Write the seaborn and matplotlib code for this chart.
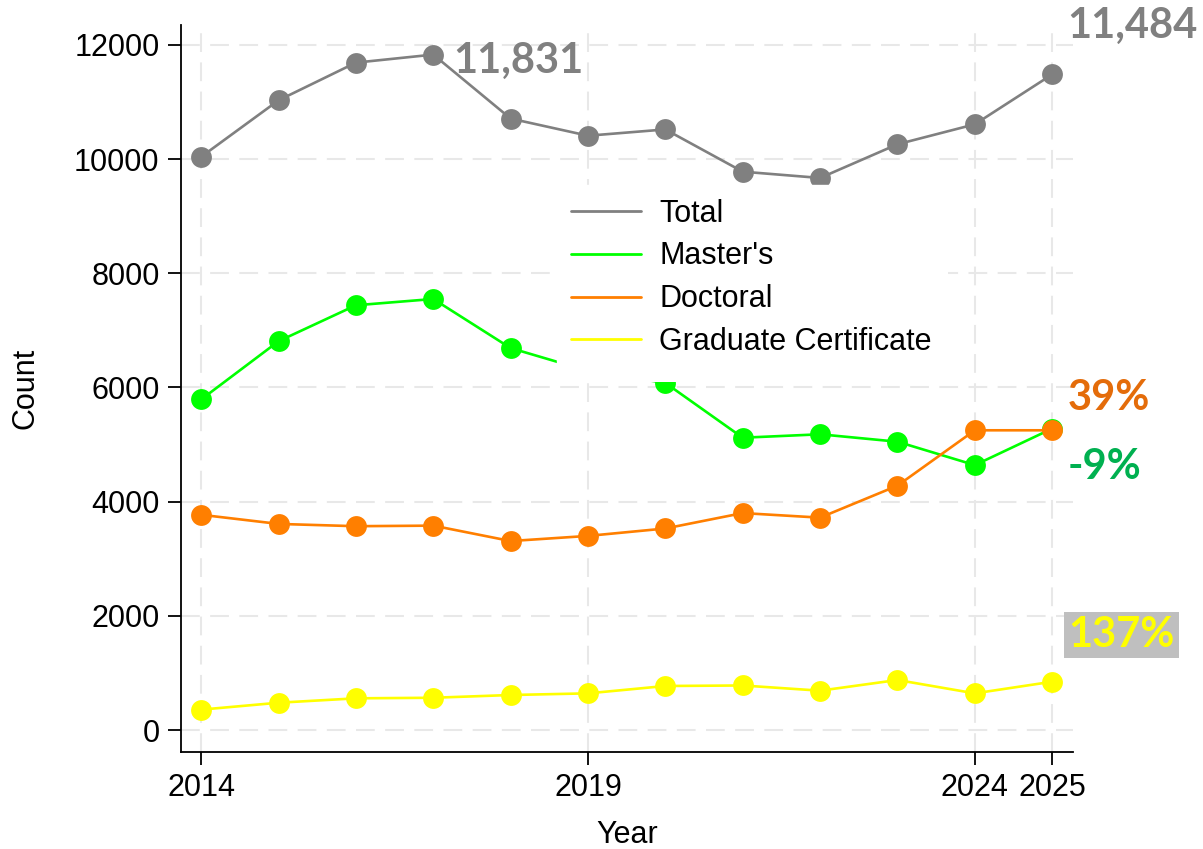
import pandas as pd
import seaborn as sns
import matplotlib.pyplot as plt
from matplotlib.lines import Line2D
from matplotlib.patches import Rectangle

# Data
years = list(range(2014, 2026))
total = [10040, 11030, 11690, 11831, 10710, 10410, 10520, 9780, 9670, 10260, 10610, 11484]
masters = [5790, 6810, 7440, 7550, 6690, 6290, 6080, 5120, 5180, 5050, 4640, 5280]
doctoral = [3770, 3610, 3570, 3580, 3310, 3400, 3530, 3800, 3720, 4280, 5250, 5250]
grad_cert = [357, 478, 555, 565, 613, 642, 771, 780, 689, 876, 642, 846]

programs = ['Total', "Master's", 'Doctoral', 'Graduate Certificate']
line_colors = ['#808080', '#00FF00', '#FF7F00', '#FFFF00']
x_ticks = [2014, 2019, 2024, 2025]
y_ticks = [0, 2000, 4000, 6000, 8000, 10000, 12000]

df = pd.DataFrame({
    'Year': years * 4,
    'Count': total + masters + doctoral + grad_cert,
    'Program': [p for p in programs for _ in years],
})

sns.set_style('white')
plt.rcParams['font.family'] = ['Liberation Sans', 'DejaVu Sans']
plt.rcParams['text.color'] = 'black'
plt.rcParams['axes.labelcolor'] = 'black'

fig = plt.figure(figsize=(12.03, 8.49), dpi=100, facecolor='white')
ax = fig.add_axes([0.1505, 0.1146, 0.7415, 0.856])

# dashed grid at the tick positions
for yt in y_ticks:
    ax.axhline(yt, color='#E8E8E8', lw=1.5, dashes=(9, 5), zorder=0)
for xt in x_ticks:
    ax.axvline(xt, color='#E8E8E8', lw=1.5, dashes=(9, 5), zorder=0)

sns.lineplot(data=df, x='Year', y='Count', hue='Program', hue_order=programs,
             palette=dict(zip(programs, line_colors)), marker='o',
             markersize=15, markeredgewidth=0, linewidth=1.9, legend=False, ax=ax)

ax.set_xlim(2013.74, 2025.27)
ax.set_ylim(-380, 12350)
ax.set_xticks(x_ticks)
ax.set_yticks(y_ticks)
ax.set_yticklabels([str(v) for v in y_ticks])
ax.tick_params(axis='both', labelsize=22, length=9.5, width=1.3,
               direction='out', pad=6, colors='black', left=True, bottom=True)
ax.set_xlabel('Year', fontsize=22, labelpad=12, color='black')
ax.set_ylabel('Count', fontsize=22, labelpad=24, color='black')
for side in ['top', 'right']:
    ax.spines[side].set_visible(False)
for side in ['left', 'bottom']:
    ax.spines[side].set_color('black')
    ax.spines[side].set_linewidth(1.3)

# white panel behind the legend, hiding the lines under it
ax.add_patch(Rectangle((0.4215, 0.509), 0.4385, 0.271, transform=ax.transAxes,
                       facecolor='white', edgecolor='none', zorder=4))

handles = [Line2D([0], [0], color=c, lw=2) for c in line_colors]
leg = ax.legend(handles, programs, loc='upper left', bbox_to_anchor=(0.4215, 0.780),
                borderaxespad=0, frameon=True, fancybox=False, framealpha=1,
                facecolor='white', edgecolor='white', fontsize=22,
                handlelength=2.3, handletextpad=0.6, borderpad=0.45,
                labelspacing=0.42, labelcolor='black')
leg.set_zorder(5)

# Value call-outs
peak = total.index(max(total))
label_font = dict(fontsize=30, fontweight='bold', family=['Lato', 'DejaVu Sans'],
                  va='center', ha='left', textcoords='offset points')
ax.annotate('11,831', xy=(years[peak], total[peak]), xytext=(14.4, -4.7),
            color='#808080', **label_font)
ax.annotate('11,484', xy=(years[-1], total[-1]), xytext=(10.8, 34.6),
            color='#808080', annotation_clip=False, **label_font)
ax.annotate('39%', xy=(years[-1], doctoral[-1]), xytext=(10.8, 23),
            color='#E46C0A', annotation_clip=False, **label_font)
ax.annotate('-9%', xy=(years[-1], masters[-1]), xytext=(10.8, -27.4),
            color='#00B050', annotation_clip=False, **label_font)
ax.annotate('137%', xy=(years[-1], grad_cert[-1]), xytext=(11.5, 33.6),
            color='#FFFF00', annotation_clip=False,
            bbox=dict(boxstyle='square,pad=0.1', facecolor='#BFBFBF', edgecolor='none'),
            **label_font)

plt.savefig('out.png', dpi=100)
